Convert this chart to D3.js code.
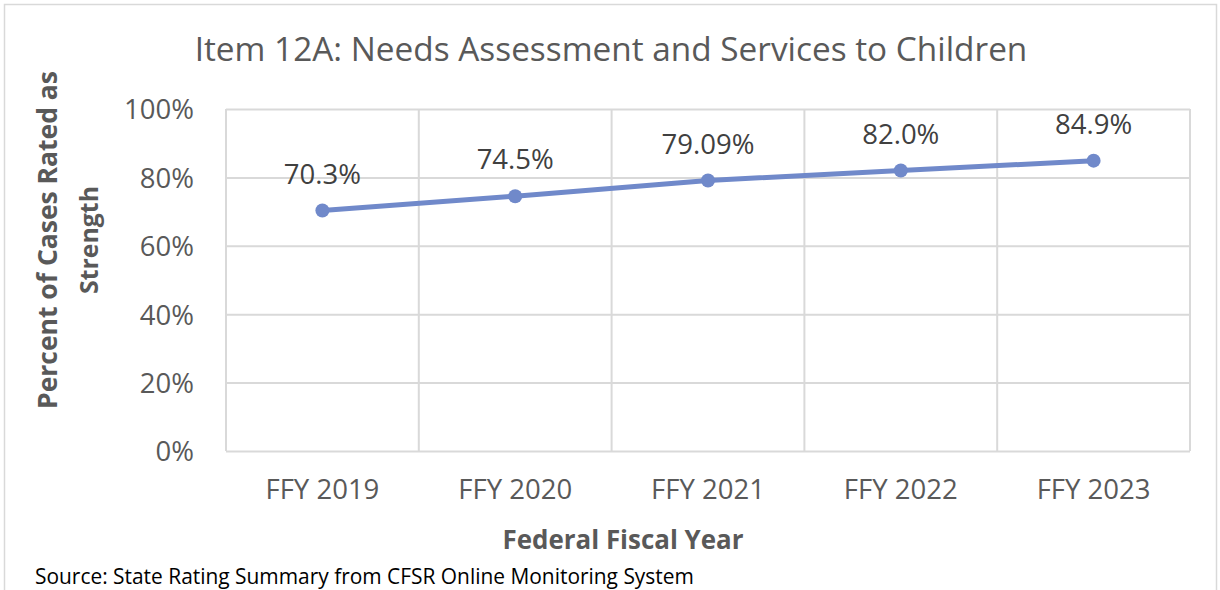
<!DOCTYPE html>
<html>
<head>
<meta charset="utf-8">
<script src="https://cdn.jsdelivr.net/npm/d3@7"></script>
<style>
  html, body { margin: 0; padding: 0; background: #fff; }
  svg { display: block; }
  text { font-family: "Open Sans", "Noto Sans", sans-serif; }
</style>
</head>
<body>
<svg id="chart" width="1220" height="590"></svg>
<script>
// Chart data
const categories = ["FFY 2019", "FFY 2020", "FFY 2021", "FFY 2022", "FFY 2023"];
const values = [70.3, 74.5, 79.09, 82.0, 84.9];
const valueLabels = ["70.3%", "74.5%", "79.09%", "82.0%", "84.9%"];
const yTicks = [0, 20, 40, 60, 80, 100];
const titleText = "Item 12A: Needs Assessment and Services to Children";
const xTitle = "Federal Fiscal Year";
const yTitleLines = ["Percent of Cases Rated as", "Strength"];
const sourceText = "Source: State Rating Summary from CFSR Online Monitoring System";

const svg = d3.select("#chart");
const plot = { left: 226, right: 1190, top: 109, bottom: 451 };
const lineColor = "#7089CA";
const gridColor = "#D9D9D9";
const textGrey = "#595959";

// Scale text so it spans a given width
function fitWidth(sel, target) {
  const w = sel.node().getComputedTextLength();
  const fs = parseFloat(sel.attr("font-size"));
  sel.attr("font-size", fs * target / w);
}

// Outer chart border
svg.append("rect")
  .attr("x", 4.5).attr("y", 4.5)
  .attr("width", 1212).attr("height", 600)
  .attr("fill", "#fff").attr("stroke", "#D9D9D9").attr("stroke-width", 1.5);

const x = d3.scaleBand().domain(categories).range([plot.left, plot.right]).paddingInner(0).paddingOuter(0);
const y = d3.scaleLinear().domain([0, 100]).range([plot.bottom, plot.top]);

// Horizontal gridlines + y tick labels
const yAxis = d3.axisLeft(y).tickValues(yTicks).tickFormat(d => d + "%")
  .tickSize(-(plot.right - plot.left)).tickPadding(32);
const gy = svg.append("g").attr("transform", `translate(${plot.left},0)`).call(yAxis);
gy.select(".domain").remove();
gy.selectAll(".tick line").attr("stroke", gridColor).attr("stroke-width", 2);
gy.selectAll(".tick text")
  .attr("fill", textGrey).attr("font-size", 27.5)
  .attr("font-family", "'Open Sans', sans-serif")
  .attr("dy", "0.36em");

// Vertical gridlines at category boundaries
const bounds = categories.map(c => x(c)).concat([x(categories[categories.length - 1]) + x.bandwidth()]);
svg.append("g").selectAll("line").data(bounds).join("line")
  .attr("x1", d => d).attr("x2", d => d)
  .attr("y1", plot.top).attr("y2", plot.bottom)
  .attr("stroke", gridColor).attr("stroke-width", 2);

// X axis labels
const xAxis = d3.axisBottom(x).tickSize(0).tickPadding(28);
const gx = svg.append("g").attr("transform", `translate(0,${plot.bottom})`).call(xAxis);
gx.select(".domain").remove();
gx.selectAll(".tick text").attr("fill", textGrey).attr("font-size", 23.5)
  .attr("font-family", "'Open Sans', sans-serif");
gx.selectAll(".tick text").each(function () { fitWidth(d3.select(this), 114); });

// Series line
const pts = categories.map((c, i) => ({ c, v: values[i], label: valueLabels[i] }));
const line = d3.line().x(d => x(d.c) + x.bandwidth() / 2).y(d => y(d.v));
svg.append("path").datum(pts)
  .attr("d", line).attr("fill", "none")
  .attr("stroke", lineColor).attr("stroke-width", 5).attr("stroke-linejoin", "round");

svg.append("g").selectAll("circle").data(pts).join("circle")
  .attr("cx", d => x(d.c) + x.bandwidth() / 2).attr("cy", d => y(d.v))
  .attr("r", 7).attr("fill", lineColor);

// Data labels
svg.append("g").selectAll("text").data(pts).join("text")
  .attr("x", d => x(d.c) + x.bandwidth() / 2)
  .attr("y", d => y(d.v) - 27)
  .attr("text-anchor", "middle")
  .attr("fill", "#404040").attr("font-size", 27.5)
  .text(d => d.label);

// Title
const t = svg.append("text").attr("x", 611).attr("y", 61)
  .attr("text-anchor", "middle").attr("fill", textGrey).attr("font-size", 31)
  .text(titleText);
fitWidth(t, 833);

// X axis title
const xt = svg.append("text").attr("x", 623).attr("y", 549)
  .attr("text-anchor", "middle").attr("fill", textGrey)
  .attr("font-size", 24).attr("font-weight", "bold").text(xTitle);
fitWidth(xt, 241);

// Y axis title (two lines, rotated)
yTitleLines.forEach((ln, i) => {
  const s = svg.append("text")
    .attr("transform", `translate(${57 + i * 41},240) rotate(-90)`)
    .attr("text-anchor", "middle").attr("fill", textGrey)
    .attr("font-size", 24).attr("font-weight", "bold").text(ln);
  fitWidth(s, i === 0 ? 338 : 108);
});

// Source note
const src = svg.append("text").attr("x", 35).attr("y", 584)
  .attr("fill", "#000").attr("font-size", 18).text(sourceText);
fitWidth(src, 659);
</script>
</body>
</html>
